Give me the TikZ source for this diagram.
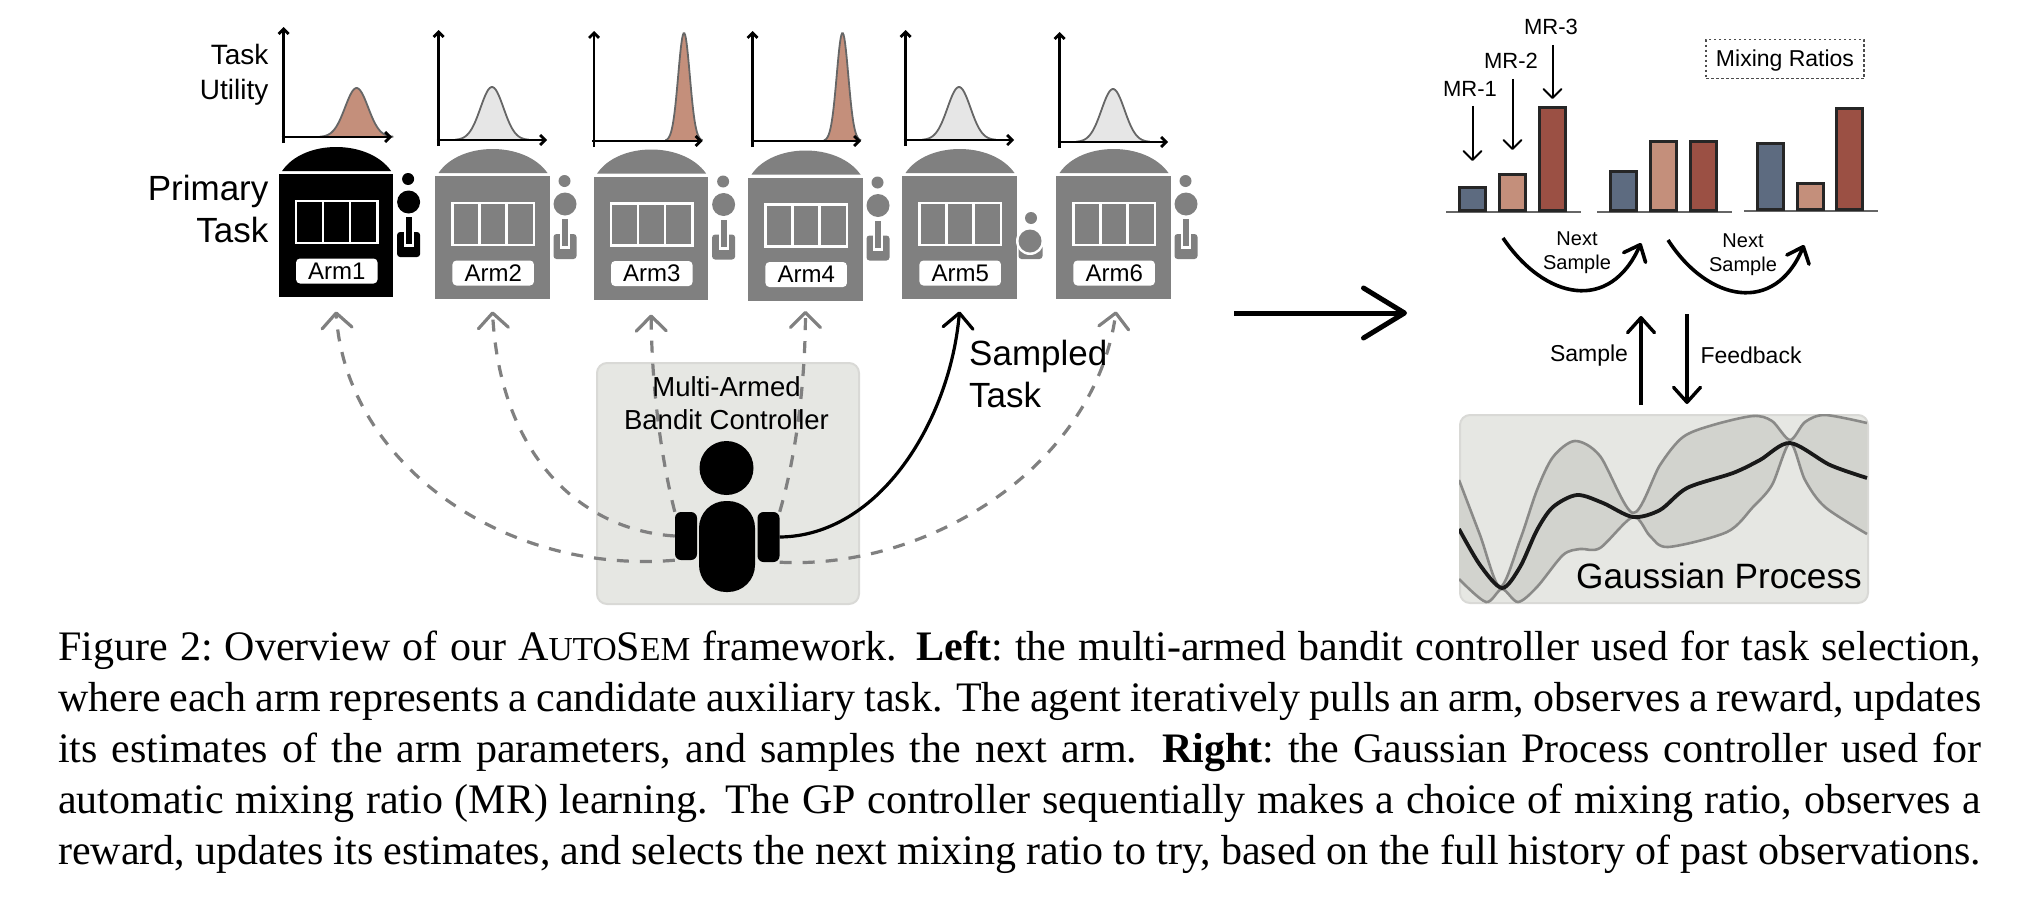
\documentclass[tikz,border=0pt]{standalone}
\usepackage{fontspec}
\setmainfont{Liberation Serif}
\setsansfont{Liberation Sans}
\usetikzlibrary{arrows.meta}
\definecolor{armgrey}{HTML}{808080}
\definecolor{paneltan}{HTML}{E6E7E3}
\definecolor{paneledge}{HTML}{D9D9D6}
\definecolor{hilight}{HTML}{C48F7B}
\definecolor{lowlight}{HTML}{E6E6E6}
\definecolor{barblue}{HTML}{5D6B80}
\definecolor{barred}{HTML}{9B5044}
\definecolor{bandfill}{HTML}{D2D3CE}
\definecolor{bandline}{HTML}{8A8A88}
\begin{document}
\begin{tikzpicture}[
    x=1pt, y=-1pt,
    lab/.style 2 args={
        font=\sffamily\fontsize{#1}{#2}\selectfont,
        inner sep=0pt, text=black
    },
    panel/.style={
        rectangle, draw=paneledge, fill=paneltan,
        rounded corners=10pt, line width=2pt, inner sep=0pt
    },
    armbar/.style={
        rectangle, draw=black!85, line width=3pt,
        minimum width=26pt, anchor=south west, inner sep=0pt
    },
    base/.style={draw=black!60, line width=1.6pt},
    thinarr/.style={-{Straight Barb[length=9pt, width=18pt, round]}, line width=2pt},
    midarr/.style={-{Straight Barb[length=15pt, width=27pt, round]}, line width=3.4pt},
    nextarr/.style={-{Straight Barb[length=14pt, width=24pt, round]}, line width=3.6pt},
    pullarr/.style={-{Straight Barb[length=15pt, width=30pt, round]}, line width=3.2pt},
    idlearr/.style={pullarr, armgrey, dash pattern=on 12pt off 11pt},
    axisarr/.style={-{Straight Barb[length=5pt, width=10pt]}, line width=2.8pt},
    pics/leverup/.style={code={
        \fill[#1] (129.5,5) circle[radius=6];
        \fill[#1] (130,28) circle[radius=11.5];
        \fill[#1, rounded corners=3pt] (118.5,58) rectangle (141.5,83);
        \fill[white] (125,43) rectangle (135,73);
        \fill[#1] (127,43) rectangle (133,70);
    }},
    pics/leverdown/.style={code={
        \fill[#1, rounded corners=3pt] (116.5,68) rectangle (140.5,83);
        \fill[white] (128,65) circle[radius=14];
        \fill[#1] (129,42) circle[radius=6];
        \fill[#1] (128,65) circle[radius=11.5];
    }},
    pics/slot/.style n args={3}{code={
        \fill[#1] (3.5,-3) .. controls (25,-35) and (90,-35) .. (112.5,-3) -- cycle;
        \node[fill=#1, minimum width=114.6pt, minimum height=123pt,
            anchor=north west, inner sep=0pt] (-body) at (0,0) {};
        \draw[white, line width=2.6pt] (17.5,27) rectangle (99,69);
        \draw[white, line width=2.6pt] (44.5,27) -- (44.5,69);
        \draw[white, line width=2.6pt] (71.5,27) -- (71.5,69);
        \node[fill=white, rounded corners=4pt, minimum width=81.5pt, minimum height=25pt,
            lab={24}{26}] (-label) at (58.2,97) {#2};
        \pic at (0,0) {#3=#1};
    }},
    pics/utility/.style n args={4}{code={
        \draw[fill=#1, draw=black!60, line width=1.8pt]
            plot[domain={#2-3.2*#3}:{#2+3.2*#3}, samples=50, smooth]
            (\x, {-#4*exp(-0.5*((\x-#2)/#3)^2)});
        \draw[axisarr] (-2,0) -- (108.5,0);
        \draw[axisarr] (0,6) -- (0,-110);
    }},
]
\useasboundingbox (0,0) rectangle (2030,900);

% Utility plots
\pic at (283.6,137) {utility={hilight}{73}{11.5}{49}};
\pic at (438.6,140) {utility={lowlight}{53.4}{11.5}{53}};
\pic at (594,141) {utility={hilight}{90}{5.8}{108}};
\pic at (752.5,141) {utility={hilight}{90}{5.8}{108}};
\pic at (905.7,140) {utility={lowlight}{53.3}{11.5}{53}};
\pic at (1059.6,142) {utility={lowlight}{53.4}{11.5}{53}};
\node[lab={28}{35}, align=right, anchor=east] (utility) at (268.6,75) {Task\\Utility};

% Arms
\pic (arm1) at (278.6,174) {slot={black}{Arm1}{leverup}};
\pic (arm2) at (435,176) {slot={armgrey}{Arm2}{leverup}};
\pic (arm3) at (593.6,176.5) {slot={armgrey}{Arm3}{leverup}};
\pic (arm4) at (748,177.5) {slot={armgrey}{Arm4}{leverup}};
\pic (arm5) at (902,176) {slot={armgrey}{Arm5}{leverdown}};
\pic (arm6) at (1056,176) {slot={armgrey}{Arm6}{leverup}};
\node[lab={35}{42}, align=right, anchor=east] (primary) at (268.6,209) {Primary\\Task};

% Controller
\node[panel, minimum width=262pt, minimum height=241pt, anchor=north west] (controller) at (596,362) {};
\node[fill=black, rounded corners=6pt, minimum width=22pt, minimum height=48pt, inner sep=0pt] (handl) at (686,536) {};
\node[fill=black, rounded corners=6pt, minimum width=22pt, minimum height=50pt, inner sep=0pt] (handr) at (768.5,537) {};

% Arrows
\draw[idlearr] (handl.south west) .. controls (500,575) and (345,460) .. ([yshift=-14pt]arm1-body.south);
\draw[idlearr] (handl.west) .. controls (580,530) and (500,455) .. ([yshift=-12pt]arm2-body.south);
\draw[idlearr] (handl.north west) .. controls (664,470) and (652,400) .. ([yshift=-14.5pt]arm3-body.south);
\draw[idlearr] (handr.north east) .. controls (792,470) and (805,400) .. ([yshift=-10pt]arm4-body.south);
\draw[idlearr] (handr.south east) .. controls (930,570) and (1095,465) .. ([xshift=2.5pt, yshift=-12pt]arm6-body.south);
\draw[pullarr] (handr.east) .. controls (880,536) and (950,420) .. ([yshift=-12pt]arm5-body.south);

\node[lab={27.5}{33}, align=center] (mab) at (726.5,403.5) {Multi-Armed\\Bandit Controller};
\node[lab={35}{42}, align=left, anchor=west] (sampled) at (969,374) {Sampled\\Task};

% Robot
\node[circle, fill=black, minimum size=54pt, inner sep=0pt] (head) at (726.5,468) {};
\node[fill=black, rounded corners=27pt, minimum width=56pt, minimum height=91pt, inner sep=0pt] (torso) at (727,546.5) {};

% Big arrow
\coordinate (leftend) at (1234,313);
\coordinate (rightend) at (1407,313);
\draw[-{Straight Barb[length=41pt, width=50pt, round]}, line width=5pt] (leftend) -- (rightend);

% Bars
\draw[base] (1446,212) -- (1581,212);
\draw[base] (1597,212) -- (1732,212);
\draw[base] (1744,211) -- (1878,211);
\node[armbar, fill=barblue, minimum height=23pt] (b11) at (1458,212) {};
\node[armbar, fill=hilight, minimum height=36pt] (b12) at (1498,212) {};
\node[armbar, fill=barred, minimum height=103pt] (b13) at (1538,212) {};
\node[armbar, fill=barblue, minimum height=39pt] (b21) at (1609,212) {};
\node[armbar, fill=hilight, minimum height=69pt] (b22) at (1649,212) {};
\node[armbar, fill=barred, minimum height=69pt] (b23) at (1689,212) {};
\node[armbar, fill=barblue, minimum height=66pt] (b31) at (1756,211) {};
\node[armbar, fill=hilight, minimum height=26pt] (b32) at (1796,211) {};
\node[armbar, fill=barred, minimum height=101pt] (b33) at (1835,211) {};

% Mixing ratio labels
\node[lab={22}{26}] (mr1) at (1470,89) {MR-1};
\node[lab={22}{26}] (mr2) at (1511,61) {MR-2};
\node[lab={22}{26}] (mr3) at (1551,27) {MR-3};
\draw[thinarr, shorten <=9pt, shorten >=25pt] (mr1.south -| b11.north) -- (b11.north);
\draw[thinarr, shorten <=10pt, shorten >=23pt] (mr2.south -| b12.north) -- (b12.north);
\draw[thinarr, shorten <=10pt, shorten >=7pt] (mr3.south -| b13.north) -- (b13.north);
\node[draw=black!70, line width=1.2pt, dash pattern=on 2.5pt off 2.5pt,
    minimum width=158pt, minimum height=39pt, inner sep=0pt] (legend) at (1785,59) {};
\node[lab={23}{26}] (legendtext) at (1785,61) {Mixing Ratios};

% Next sample
\coordinate (next1a) at (1503,238);
\coordinate (next1b) at (1641,243);
\coordinate (next2a) at (1668,240);
\coordinate (next2b) at (1804,245);
\draw[nextarr] (next1a) .. controls (1545,300) and (1610,313) .. (next1b);
\draw[nextarr] (next2a) .. controls (1708,302) and (1775,315) .. (next2b);
\node[lab={20}{24}, align=center] (next1) at (1577,252.5) {Next\\Sample};
\node[lab={20}{24}, align=center] (next2) at (1743,255) {Next\\Sample};

% Gaussian process
\node[panel, minimum width=408pt, minimum height=188pt, anchor=north west] (gp) at (1459,414) {};
\begin{scope}
\clip[rounded corners=10pt] (gp.south west) rectangle (gp.north east);
\fill[bandfill] plot[smooth] coordinates {(1459,480) (1480,535) (1500,587) (1520,540) (1537,490) (1553,457) (1575,441) (1600,456) (1633,513) (1660,465) (1683,437) (1713,425) (1753,416) (1772,421) (1790,440) (1805,422) (1825,415) (1867,423)}
    -- plot[smooth] coordinates {(1867,534) (1825,507) (1805,480) (1790,443) (1772,485) (1753,507) (1727,532) (1668,547) (1650,536) (1633,517) (1600,548) (1580,549) (1563,555) (1537,587) (1518,602) (1502,589) (1486,602) (1459,579)} -- cycle;
\draw[bandline, line width=2.6pt] plot[smooth] coordinates {(1459,480) (1480,535) (1500,587) (1520,540) (1537,490) (1553,457) (1575,441) (1600,456) (1633,513) (1660,465) (1683,437) (1713,425) (1753,416) (1772,421) (1790,440) (1805,422) (1825,415) (1867,423)};
\draw[bandline, line width=2.6pt] plot[smooth] coordinates {(1459,579) (1486,602) (1502,589) (1518,602) (1537,587) (1563,555) (1580,549) (1600,548) (1633,517) (1650,536) (1668,547) (1727,532) (1753,507) (1772,485) (1790,443) (1805,480) (1825,507) (1867,534)};
\draw[black!90, line width=3.8pt] plot[smooth] coordinates {(1459,529) (1480,565) (1502,588) (1520,567) (1537,530) (1553,507) (1577,495) (1603,503) (1633,517) (1660,510) (1687,488) (1733,473) (1760,460) (1790,443) (1830,465) (1867,478)};
\end{scope}
\node[lab={35.2}{40}, anchor=east] (gplabel) at (1862,576) {Gaussian Process};

% Sample and feedback
\coordinate (upend) at (1641,316);
\coordinate (downstart) at (1687,314);
\draw[midarr, shorten <=9pt] (gp.north -| upend) -- (upend);
\draw[midarr, shorten >=10pt] (downstart) -- (gp.north -| downstart);
\node[lab={23}{26}] (sample) at (1589,356) {Sample};
\node[lab={23}{26}] (feedback) at (1751,355.5) {Feedback};

% Caption
\node[anchor=north west, inner sep=0pt, text width=1923pt, align=justify,
    font=\fontsize{42}{51}\selectfont] (caption) at (58,631) {\sfcode`:=1000
Figure 2: Overview of our A{\fontsize{33.5}{51}\selectfont UTO}S{\fontsize{33.5}{51}\selectfont EM} framework. \textbf{Left}: the multi-armed bandit controller used for task selection,\linebreak
where each arm represents a candidate auxiliary task. The agent iteratively pulls an arm, observes a reward, updates\linebreak
its estimates of the arm parameters, and samples the next arm. \textbf{Right}: the Gaussian Process controller used for\linebreak
automatic mixing ratio (MR) learning. The GP controller sequentially makes a choice of mixing ratio, observes a\linebreak
\makebox[1923pt][s]{reward, updates its estimates, and selects the next mixing ratio to try, based on the full history of past observations.}};
\end{tikzpicture}
\end{document}
